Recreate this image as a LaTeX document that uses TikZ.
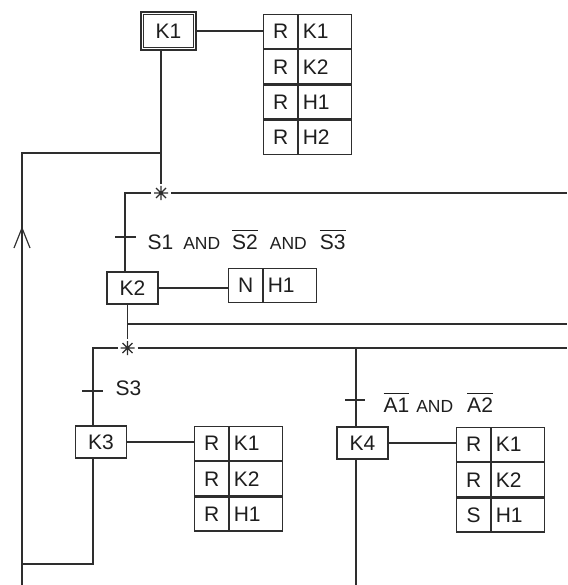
\documentclass[tikz,border=0pt]{standalone}
\usepackage{fontspec}
\setmainfont{Liberation Sans}
\definecolor{lc}{HTML}{2E2E2E}
\definecolor{tc}{HTML}{1E1E1E}
\newcommand\ob[1]{\vbox{\hrule height 1.2pt\kern 3.5pt\hbox{#1}}}
\newcommand\andw{{\fontsize{17.5}{19}\selectfont AND}}
\newcommand\msz{\fontsize{21}{24}\selectfont}
\begin{document}
\begin{tikzpicture}[x=1pt,y=-1pt,line width=1.2pt,draw=lc,text=tc,
  kbox/.style={draw=lc,line width=1.2pt,minimum width=51pt,minimum height=32pt,inner sep=0pt,font=\msz},
  cella/.style={draw=lc,line width=1.2pt,minimum width=34pt,minimum height=34pt,inner sep=0pt,font=\msz},
  cellb/.style={draw=lc,line width=1.2pt,minimum height=34pt,text width=45pt,inner xsep=4pt,inner ysep=0pt,align=left,font=\msz},
  lbl/.style={inner sep=0pt,font=\msz},
  astar/.pic={\draw[line width=1.1pt] (0,-7)--(0,7) (-7,0)--(7,0) (-5,-5)--(5,5) (-5,5)--(5,-5);}
]
\useasboundingbox[fill=white] (0,0) rectangle (567,585);

% steps
\node[kbox,minimum width=55pt,minimum height=38pt,line width=2.2pt] (K1) at (168.5,31) {K1};
\draw[line width=0.9pt] ([shift={(3.8pt,-3.8pt)}]K1.north west) rectangle ([shift={(-3.8pt,3.8pt)}]K1.south east);
\node[kbox] (K2) at (132.5,288) {K2};
\node[kbox] (K3) at (101,442) {K3};
\node[kbox] (K4) at (362.5,443) {K4};

% table 1
\node[cella,anchor=north west] (t1a1) at (263,14) {R};
\node[cellb,anchor=west] (t1b1) at (t1a1.east) {K1};
\node[cella,anchor=north] (t1a2) at (t1a1.south) {R};
\node[cellb,anchor=west] (t1b2) at (t1a2.east) {K2};
\node[cella,anchor=north] (t1a3) at (t1a2.south) {R};
\node[cellb,anchor=west] (t1b3) at (t1a3.east) {H1};
\node[cella,anchor=north] (t1a4) at (t1a3.south) {R};
\node[cellb,anchor=west] (t1b4) at (t1a4.east) {H2};

% table N
\node[cella,anchor=north west] (t2a1) at (228,268) {N};
\node[cellb,anchor=west] (t2b1) at (t2a1.east) {H1};

% table K3
\node[cella,anchor=north west] (t3a1) at (194,426) {R};
\node[cellb,anchor=west] (t3b1) at (t3a1.east) {K1};
\node[cella,anchor=north] (t3a2) at (t3a1.south) {R};
\node[cellb,anchor=west] (t3b2) at (t3a2.east) {K2};
\node[cella,anchor=north] (t3a3) at (t3a2.south) {R};
\node[cellb,anchor=west] (t3b3) at (t3a3.east) {H1};

% table K4
\node[cella,anchor=north west] (t4a1) at (456,427) {R};
\node[cellb,anchor=west] (t4b1) at (t4a1.east) {K1};
\node[cella,anchor=north] (t4a2) at (t4a1.south) {R};
\node[cellb,anchor=west] (t4b2) at (t4a2.east) {K2};
\node[cella,anchor=north] (t4a3) at (t4a2.south) {S};
\node[cellb,anchor=west] (t4b3) at (t4a3.east) {H1};

% coordinates
\coordinate (s1) at (161,193);
\coordinate (s2) at (127.5,348);
\coordinate (c1) at (22,153);
\coordinate (c2) at (125,193);
\coordinate (c3) at (93,348);
\coordinate (c4) at (93,564);
\coordinate (bl) at (22,585);
\coordinate (e1) at (567,193);
\coordinate (j2) at (127.5,324);
\coordinate (e2) at (567,324);
\coordinate (e3) at (567,348);
\coordinate (v4) at (356,348);
\coordinate (v4b) at (356,585);
\coordinate (tk1) at (125,237);
\coordinate (tk2) at (93,391);
\coordinate (tk3) at (356,400);
\coordinate (ar) at (22,228);

\pic at (s1) {astar};
\pic at (s2) {astar};

% connectors
\draw (K1.east) -- (K1.east -| t1a1.west);
\draw (K1.south -| s1) -- ([yshift=9pt]s1);
\draw (s1 |- c1) -- (c1) -- (bl);
\draw ([xshift=-10pt]s1) -- (c2) -- (K2.north -| c2);
\draw ([xshift=10pt]s1) -- (e1);
\draw (K2.east) -- (K2.east -| t2a1.west);
\draw (K2.south -| j2) -- ([yshift=9pt]s2);
\draw (j2) -- (e2);
\draw ([xshift=-10pt]s2) -- (c3) -- (K3.north -| c3);
\draw ([xshift=10pt]s2) -- (e3);
\draw (K3.south -| c3) -- (c4) -- (c1 |- c4);
\draw (K3.east) -- (K3.east -| t3a1.west);
\draw (v4) -- (K4.north -| v4);
\draw (K4.south -| v4) -- (v4b);
\draw (K4.east) -- (K4.east -| t4a1.west);

% ticks
\draw ([xshift=-10pt]tk1) -- ([xshift=11pt]tk1);
\draw ([xshift=-11pt]tk2) -- ([xshift=10pt]tk2);
\draw ([xshift=-11pt]tk3) -- ([xshift=9pt]tk3);

% arrow on return line
\draw ([shift={(-8pt,-20pt)}]ar) -- (ar) -- ([shift={(8pt,-20pt)}]ar);

% labels
\node[lbl,anchor=base west] (L1) at (147,249) {S1\hspace{10pt}\andw\hspace{12pt}\ob{S2}\hspace{12pt}\andw\hspace{13pt}\ob{S3}};
\node[lbl,anchor=base west] (L2) at (115,395) {S3};
\node[lbl,anchor=base west] (L3) at (383,412) {\ob{A1}\hspace{7pt}\andw\hspace{14pt}\ob{A2}};
\end{tikzpicture}
\end{document}
